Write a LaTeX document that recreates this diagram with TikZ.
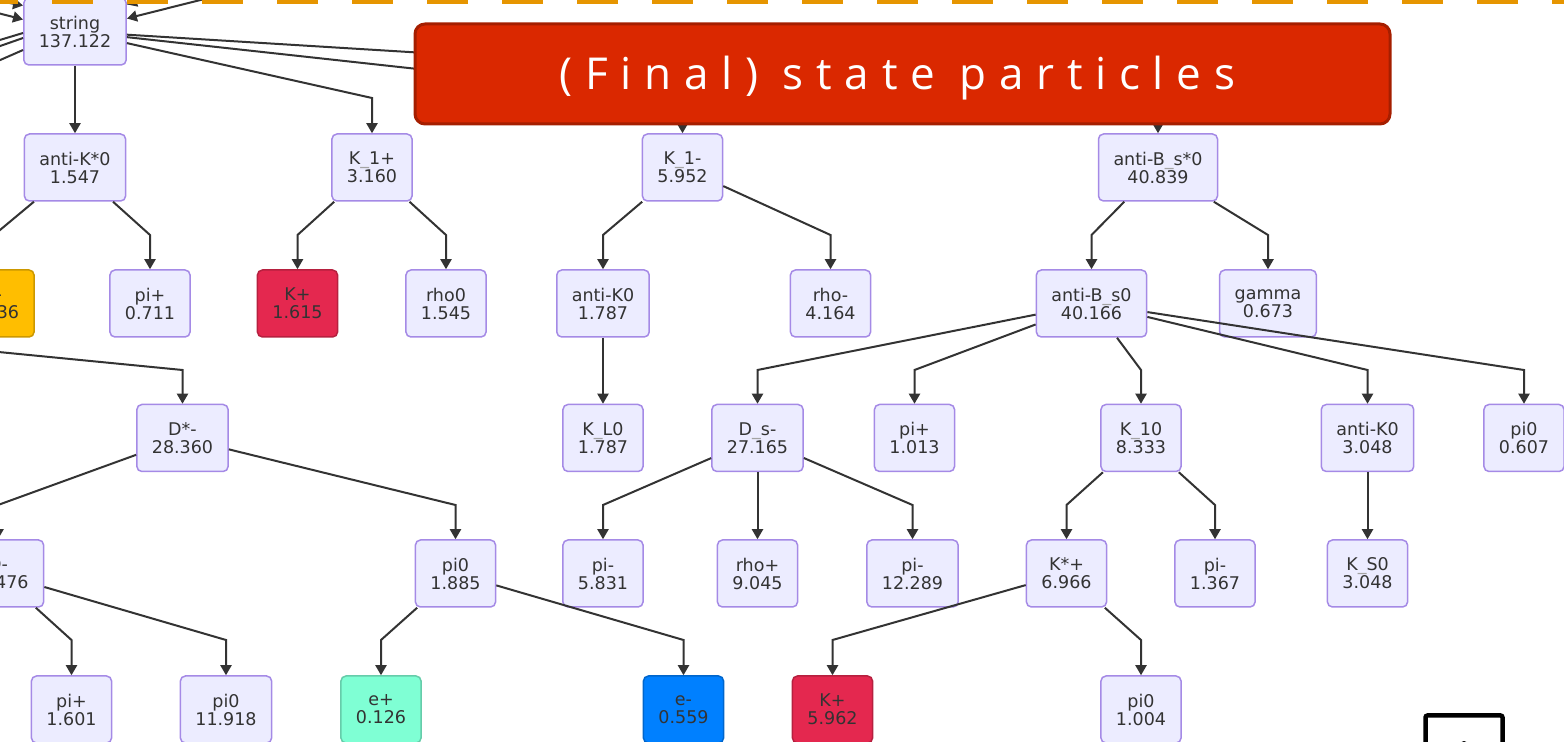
\documentclass[tikz,border=0pt]{standalone}
\usepackage{fontspec}
\setmainfont{DejaVu Sans}
\newfontfamily\bannerfont[LetterSpace=29]{Open Sans}
\usetikzlibrary{arrows.meta,calc}

\definecolor{nodefill}{HTML}{ECECFF}
\definecolor{nodeline}{HTML}{A58AE6}
\definecolor{edgecol}{HTML}{333333}
\definecolor{txt}{HTML}{333333}
\definecolor{kaonred}{HTML}{E4284F}
\definecolor{kminus}{HTML}{FFBE00}
\definecolor{posi}{HTML}{7FFFD4}
\definecolor{elec}{HTML}{0080FF}
\definecolor{banner}{HTML}{DA2800}
\definecolor{bannerline}{HTML}{A51E00}
\definecolor{dashorange}{HTML}{E69500}

\tikzset{
  particle/.style={draw=nodeline, fill=nodefill, line width=0.75pt,
    rounded corners=2.5pt, minimum height=33.5pt, inner xsep=7.5pt,
    inner ysep=0pt, align=center, text=txt,
    font=\fontsize{8.75}{9}\selectfont},
  final/.style={particle, fill=#1, draw=#1!80!black},
  edge/.style={draw=edgecol, line width=1pt, -{Triangle[length=5pt,width=5.5pt]}},
  plain/.style={draw=edgecol, line width=1pt},
}
\newcommand{\us}{\textcolor{txt!45}{\_}}

\begin{document}
\begin{tikzpicture}[x=0.5pt,y=-0.5pt]
\useasboundingbox (0,0) rectangle (1564,742);
\clip (0,0) rectangle (1564,742);

% rows where the connectors bend
\coordinate (b1) at (0,98);
\coordinate (b2) at (0,235);
\coordinate (b3) at (0,370);
\coordinate (b4) at (0,505);
\coordinate (b5) at (0,640);

% row 0
\node[particle] (string) at (75,31.5) {string\\137.122};
% row 1
\node[particle] (akstar) at (75,167.5) {anti-K*0\\1.547};
\node[particle] (k1p) at (372,167.5) {K\us1+\\3.160};
\node[particle] (k1m) at (682.5,167.5) {K\us1-\\5.952};
\node[particle] (bsstar) at (1158,167.5) {anti-B\us s*0\\40.839};
% row 2
\node[final=kminus] (km) at (-6,303.5) {K-\\0.836};
\node[particle] (pip1) at (150,303.5) {pi+\\0.711};
\node[final=kaonred] (kp1) at (297.5,303.5) {K+\\1.615};
\node[particle] (rho0) at (446,303.5) {rho0\\1.545};
\node[particle] (ak0a) at (603,303.5) {anti-K0\\1.787};
\node[particle] (rhom) at (830.5,303.5) {rho-\\4.164};
\node[particle] (bs0) at (1091.5,303.5) {anti-B\us s0\\40.166};
\node[particle] (gam) at (1268,303.5) {gamma\\0.673};
% row 3
\node[particle] (dstar) at (182.5,438) {D*-\\28.360};
\node[particle] (kl0) at (603,438) {K\us L0\\1.787};
\node[particle] (dsm) at (757.5,438) {D\us s-\\27.165};
\node[particle] (pip2) at (914.5,438) {pi+\\1.013};
\node[particle] (k10) at (1141,438) {K\us10\\8.333};
\node[particle] (ak0b) at (1367.5,438) {anti-K0\\3.048};
\node[particle] (pi0a) at (1524,438) {pi0\\0.607};
% row 4
\node[particle] (dm) at (-2,573.5) {D-\\26.476};
\node[particle] (pi0b) at (455.5,573.5) {pi0\\1.885};
\node[particle] (pim1) at (603,573.5) {pi-\\5.831};
\node[particle] (rhop) at (757.5,573.5) {rho+\\9.045};
\node[particle] (pim2) at (912.5,573.5) {pi-\\12.289};
\node[particle] (kst) at (1066.5,573.5) {K*+\\6.966};
\node[particle] (pim3) at (1215,573.5) {pi-\\1.367};
\node[particle] (ks0) at (1367.5,573.5) {K\us S0\\3.048};
% row 5
\node[particle] (pip3) at (71.5,709.5) {pi+\\1.601};
\node[particle] (pi0c) at (226,709.5) {pi0\\11.918};
\node[final=posi] (ep) at (381,709.5) {e+\\0.126};
\node[final=elec] (em) at (683.5,709.5) {e-\\0.559};
\node[final=kaonred] (kp2) at (832.5,709.5) {K+\\5.962};
\node[particle] (pi0d) at (1141,709.5) {pi0\\1.004};

% connectors into the string from parents above
\coordinate (inA) at (-60,-10);
\coordinate (inB) at (-100,-12);
\coordinate (inC) at (180,-14);
\coordinate (inD) at (260,-15);
\draw[edge] (inA) -- ($(string.west)+(0,-26)$);
\draw[edge] (inB) -- ($(string.west)+(0,-12)$);
\draw[edge] (inC) -- ($(string.east)+(0,-27)$);
\draw[edge] (inD) -- ($(string.east)+(0,-13)$);
% connectors from the string to children further left
\coordinate (outA) at (-100,70);
\coordinate (outB) at (-100,81);
\coordinate (outC) at (-100,104);
\draw[plain] ($(string.west)+(0,1.5)$) -- (outA);
\draw[plain] ($(string.west)+(0,6.5)$) -- (outB);
\draw[plain] ($(string.west)+(0,18.5)$) -- (outC);

% string -> row 1
\draw[edge] (string) -- (akstar);
\draw[edge] (string) -- (k1p |- b1) -- (k1p);
\draw[edge] (string) -- (k1m |- b1) -- (k1m);
\draw[edge] (string) -- (bsstar |- b1) -- (bsstar);

% row 1 -> row 2
\draw[edge] (akstar) -- (km |- b2) -- (km);
\draw[edge] (akstar) -- (pip1 |- b2) -- (pip1);
\draw[edge] (k1p) -- (kp1 |- b2) -- (kp1);
\draw[edge] (k1p) -- (rho0 |- b2) -- (rho0);
\draw[edge] (k1m) -- (ak0a |- b2) -- (ak0a);
\draw[edge] (k1m) -- (rhom |- b2) -- (rhom);
\draw[edge] (bsstar) -- (bs0 |- b2) -- (bs0);
\draw[edge] (bsstar) -- (gam |- b2) -- (gam);

% row 2 -> row 3
\coordinate (offD) at (-400,313);
\draw[edge] (offD) -- (dstar |- b3) -- (dstar);
\draw[edge] (ak0a) -- (kl0);
\draw[edge] (bs0) -- (dsm |- b3) -- (dsm);
\draw[edge] (bs0) -- (pip2 |- b3) -- (pip2);
\draw[edge] (bs0) -- (k10 |- b3) -- (k10);
\draw[edge] (bs0) -- (ak0b |- b3) -- (ak0b);
\draw[edge] (bs0) -- (pi0a |- b3) -- (pi0a);

% row 3 -> row 4
\draw[edge] (dstar) -- (dm |- b4) -- (dm);
\draw[edge] (dstar) -- (pi0b |- b4) -- (pi0b);
\draw[edge] (dsm) -- (pim1 |- b4) -- (pim1);
\draw[edge] (dsm) -- (rhop);
\draw[edge] (dsm) -- (pim2 |- b4) -- (pim2);
\draw[edge] (k10) -- (kst |- b4) -- (kst);
\draw[edge] (k10) -- (pim3 |- b4) -- (pim3);
\draw[edge] (ak0b) -- (ks0);

% row 4 -> row 5
\draw[edge] (dm) -- (pip3 |- b5) -- (pip3);
\draw[edge] (dm) -- (pi0c |- b5) -- (pi0c);
\draw[edge] (pi0b) -- (ep |- b5) -- (ep);
\draw[edge] (pi0b) -- (em |- b5) -- (em);
\draw[edge] (kst) -- (kp2 |- b5) -- (kp2);
\draw[edge] (kst) -- (pi0d |- b5) -- (pi0d);

% dashed frame edge along the top
\draw[dashorange, line width=4pt, dash pattern=on 20.5pt off 17pt] (-23,0) -- (1600,0);

% title banner
\node[draw=bannerline, fill=banner, line width=1.5pt, rounded corners=5pt,
  minimum width=487.5pt, minimum height=50pt] (title) at (902.5,74) {};
\node[text=white, font=\bannerfont\fontsize{22}{22}\selectfont, inner sep=0pt]
  (titletext) at ($(title.center)+(-5,4)$) {(Final) state particles};

% framed mark in the bottom right corner
\draw[line width=2.25pt, rounded corners=1pt] (1425.5,715.5) rectangle (1502.5,800);
\fill (1464,746) circle (5);
\end{tikzpicture}
\end{document}
